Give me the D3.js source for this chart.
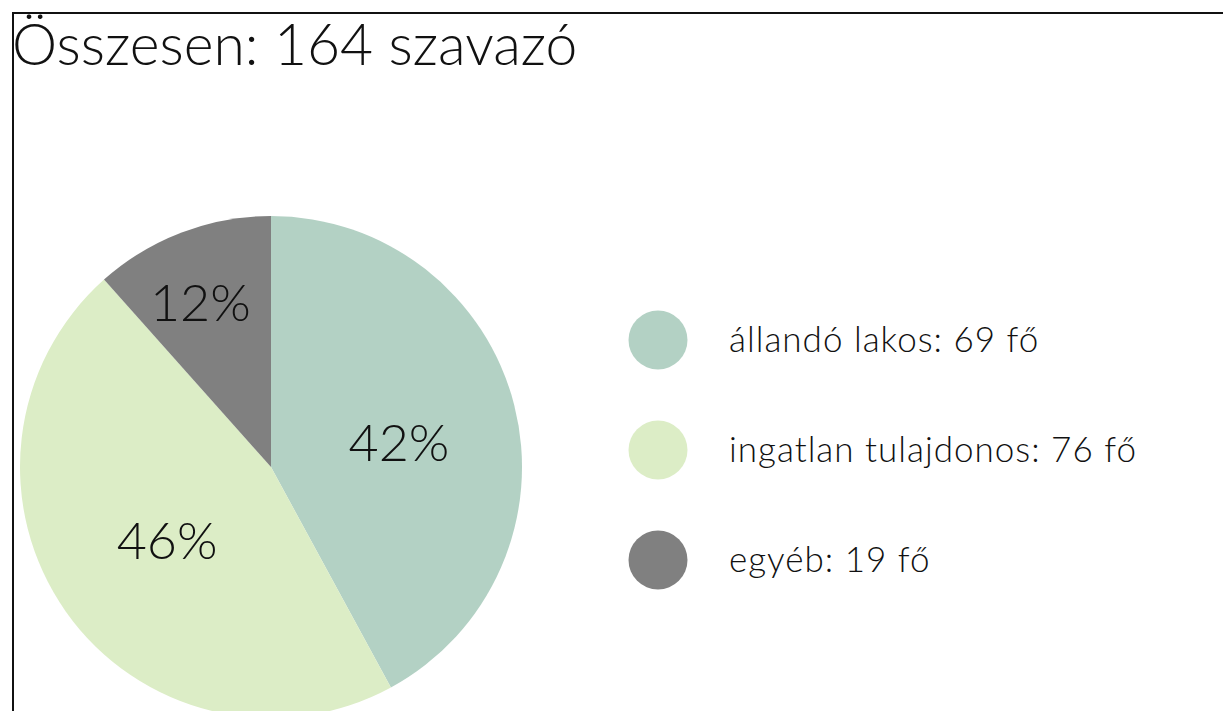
<!DOCTYPE html>
<html>
<head>
<meta charset="utf-8">
<script src="https://d3js.org/d3.v7.min.js"></script>
<style>
  body { margin: 0; background: #fff; }
  text { font-family: Lato, "Open Sans", sans-serif; fill: #111; }
</style>
</head>
<body>
<script>
// data
var categories = ["állandó lakos", "ingatlan tulajdonos", "egyéb"];
var voters = [69, 76, 19];
var colors = ["#b3d1c4", "#dcedc6", "#808080"];
var title = "Összesen: 164 szavazó";

var width = 1223, height = 711;
var svg = d3.select("body").append("svg")
    .attr("width", width)
    .attr("height", height);

// frame (only top and left edges visible)
svg.append("rect")
    .attr("x", 13).attr("y", 13)
    .attr("width", width + 20).attr("height", height + 20)
    .attr("fill", "none")
    .attr("stroke", "#111")
    .attr("stroke-width", 2);

svg.append("text")
    .attr("x", 12)
    .attr("y", 65)
    .style("font-size", "57px")
    .style("font-weight", 300)
    .text(title);

var total = d3.sum(voters);
var radius = 251;
var cx = 271, cy = 467;

var pie = d3.pie().sort(null).value(function (d) { return d; });
var arcs = pie(voters);
var arc = d3.arc().innerRadius(0).outerRadius(radius);

var g = svg.append("g").attr("transform", "translate(" + cx + "," + cy + ")");

g.selectAll("path")
    .data(arcs)
    .join("path")
    .attr("d", arc)
    .attr("fill", function (d, i) { return colors[i]; });

// percentage labels; small slices pushed outward
g.selectAll("text.pct")
    .data(arcs)
    .join("text")
    .attr("class", "pct")
    .attr("transform", function (d) {
        var share = d.value / total;
        var r = share < 0.2 ? radius * 0.73 : radius * 0.51;
        var a = (d.startAngle + d.endAngle) / 2 + (share < 0.2 ? -0.05 : 0.03);
        return "translate(" + (Math.sin(a) * r + 3) + "," + (-Math.cos(a) * r) + ")";
    })
    .attr("text-anchor", "middle")
    .attr("dy", "0.42em")
    .style("font-size", "52px")
    .style("font-weight", 300)
    .text(function (d) { return Math.round(d.value / total * 100) + "%"; });

// legend
var legendY = d3.scalePoint().domain(categories).range([340, 560]);
var legend = svg.selectAll("g.legend")
    .data(categories)
    .join("g")
    .attr("class", "legend")
    .attr("transform", function (d) { return "translate(658," + legendY(d) + ")"; });

legend.append("circle")
    .attr("r", 29.5)
    .attr("fill", function (d, i) { return colors[i]; });

legend.append("text")
    .attr("x", 71)
    .attr("dy", "0.35em")
    .style("font-size", "35px")
    .style("font-weight", 300)
    .style("letter-spacing", "1px")
    .text(function (d, i) { return d + ": " + voters[i] + " fő"; });
</script>
</body>
</html>
